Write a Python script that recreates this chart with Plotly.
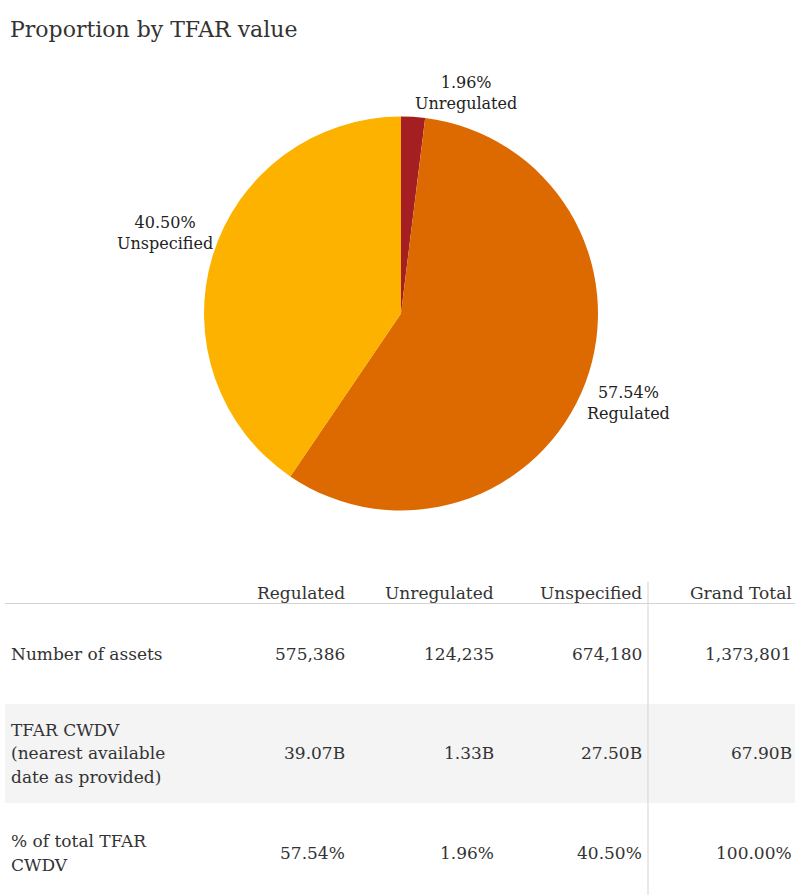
import plotly.graph_objects as go

# ---- data ----
categories = ["Unregulated", "Regulated", "Unspecified"]
pie_pct = [1.96, 57.54, 40.50]
pie_colors = ["#A51F22", "#DD6A00", "#FDB200"]

table_cols = ["Regulated", "Unregulated", "Unspecified", "Grand Total"]
row_labels = [["Number of assets"],
              ["TFAR CWDV", "(nearest available", "date as provided)"],
              ["% of total TFAR", "CWDV"]]
n_assets = ["575,386", "124,235", "674,180", "1,373,801"]
cwdv = ["39.07B", "1.33B", "27.50B", "67.90B"]
pct_total = ["57.54%", "1.96%", "40.50%", "100.00%"]

W, H = 795, 895
FONT = "Georgia, 'DejaVu Serif', serif"
TXT = "#333333"


def px(x):
    return x / W


def py(y):
    return 1 - y / H


fig = go.Figure()

fig.add_trace(go.Pie(
    labels=categories, values=pie_pct, sort=False, direction="clockwise",
    rotation=0, marker=dict(colors=pie_colors, line=dict(width=0)),
    textinfo="none", hoverinfo="label+percent", showlegend=False,
    domain=dict(x=[px(204), px(598)], y=[py(511), py(116)]),
))

ann = []
# slice labels
label_pos = {"Unregulated": (466, 93), "Regulated": (628, 403), "Unspecified": (165, 233)}
for cat, p in zip(categories, pie_pct):
    x, y = label_pos[cat]
    ann.append(dict(x=px(x), y=py(y), xref="paper", yref="paper",
                    text=f"{p:.2f}%<br>{cat}", showarrow=False,
                    font=dict(family=FONT, size=16, color="#222222"),
                    align="center", xanchor="center", yanchor="middle"))

# title
ann.append(dict(x=px(8), y=py(29), xref="paper", yref="paper",
                text="Proportion by TFAR value", showarrow=False,
                font=dict(family=FONT, size=22, color=TXT),
                xanchor="left", yanchor="middle"))

# table
col_right = [347, 496, 644, 794]
header_y = 593
row_y = [654, 753, 853]
line_gap = 23.5

for c, x in zip(table_cols, col_right):
    ann.append(dict(x=px(x), y=py(header_y), xref="paper", yref="paper",
                    text=c, showarrow=False, font=dict(family=FONT, size=17, color=TXT),
                    xanchor="right", yanchor="middle"))

for lines, y in zip(row_labels, row_y):
    top = y - line_gap * (len(lines) - 1) / 2
    for i, ln in enumerate(lines):
        ann.append(dict(x=px(9), y=py(top + i * line_gap), xref="paper", yref="paper",
                        text=ln, showarrow=False, align="left",
                        font=dict(family=FONT, size=17, color=TXT),
                        xanchor="left", yanchor="middle"))

for vals, y in zip([n_assets, cwdv, pct_total], row_y):
    for v, x in zip(vals, col_right):
        ann.append(dict(x=px(x), y=py(y), xref="paper", yref="paper",
                        text=v, showarrow=False,
                        font=dict(family=FONT, size=17, color=TXT),
                        xanchor="right", yanchor="middle"))

shapes = [
    dict(type="rect", xref="paper", yref="paper", x0=px(5), x1=px(795),
         y0=py(803), y1=py(704), fillcolor="#F4F4F4", line=dict(width=0), layer="below"),
    dict(type="line", xref="paper", yref="paper", x0=px(5), x1=px(795),
         y0=py(603.5), y1=py(603.5), line=dict(color="#D3D3D3", width=1)),
    dict(type="line", xref="paper", yref="paper", x0=px(648), x1=px(648),
         y0=py(582), y1=py(895), line=dict(color="#D3D3D3", width=1)),
]

fig.update_layout(
    width=W, height=H, margin=dict(l=0, r=0, t=0, b=0),
    paper_bgcolor="white", plot_bgcolor="white",
    annotations=ann, shapes=shapes,
)

fig.write_html("out.html")
